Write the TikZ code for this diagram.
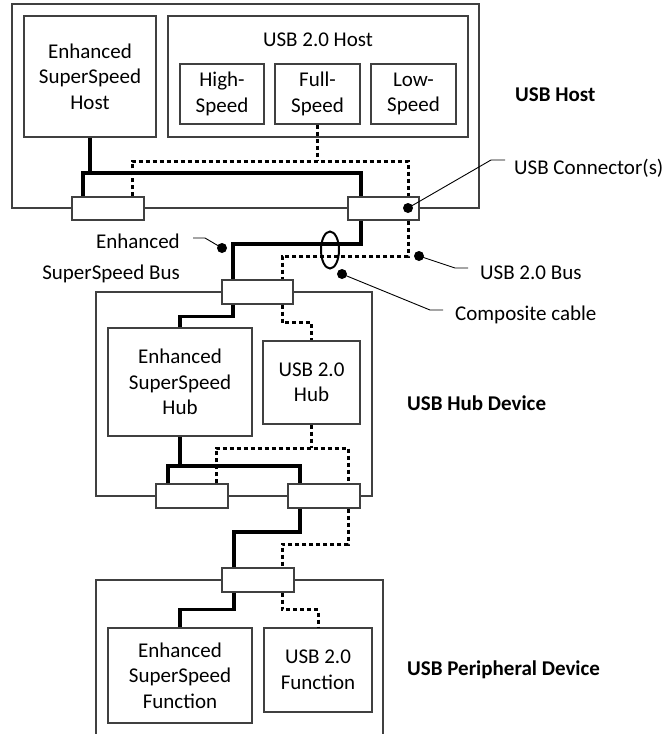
\documentclass[tikz,border=0pt]{standalone}
\usepackage{fontspec}
\setmainfont{Carlito}
\usetikzlibrary{shapes.geometric}
\newcommand\dfont{\fontsize{21}{25.5}\selectfont}
\tikzset{
  box/.style={draw=black!75, line width=1.2pt, inner sep=0pt, align=center, font=\dfont},
  conn/.style={box, fill=white},
  lbl/.style={inner sep=0pt, font=\dfont, anchor=west},
  blbl/.style={inner sep=0pt, font=\dfont\bfseries, anchor=west},
  ss/.style={line width=3.3pt},
  utwo/.style={line width=3pt, dash pattern=on 4pt off 3pt},
  dot/.style={circle, fill=black, inner sep=0pt, minimum size=10pt},
  lead/.style={line width=0.9pt},
  boxline/.style={draw=black!75, line width=1.2pt}
}
\begin{document}
\begin{tikzpicture}[x=1pt,y=-1pt]
\useasboundingbox (0,0) rectangle (667,734);
% host
\node[box, minimum width=467, minimum height=204] (hostbox) at (245.5,106) {};
\node[box, minimum width=132, minimum height=121] (esshost) at (90,76.5) {Enhanced\\SuperSpeed\\Host};
\node[box, minimum width=300, minimum height=121] (u2host) at (318,76.5) {};
\node[lbl, anchor=center] (u2hostlbl) at (318,40) {USB 2.0 Host};
\node[box, minimum width=84, minimum height=60] (hs) at (222,94) {High-\\Speed};
\node[box, minimum width=85, minimum height=60] (fs) at (317.5,94) {Full-\\Speed};
\node[box, minimum width=85, minimum height=60] (ls) at (413.5,94) {Low-\\Speed};
\node[conn, minimum width=72, minimum height=23] (hc1) at (108,208.5) {};
\node[conn, minimum width=71, minimum height=23] (hc2) at (383.5,208.5) {};
% hub
\node[box, minimum width=276, minimum height=204] (hubbox) at (234,394) {};
\node[conn, minimum width=71, minimum height=24] (ubc) at (257.5,292) {};
\node[box, minimum width=144, minimum height=108] (esshub) at (180,382) {Enhanced\\SuperSpeed\\Hub};
\node[box, minimum width=97, minimum height=83] (u2hub) at (311.5,382.5) {USB 2.0\\Hub};
\node[conn, minimum width=72, minimum height=24] (hbc1) at (192,496) {};
\node[conn, minimum width=72, minimum height=24] (hbc2) at (324,496) {};
% peripheral
\draw[boxline] (96,734) -- (96,580) -- (383,580) -- (383,734);
\node[conn, minimum width=72, minimum height=24] (pc) at (258,580) {};
\node[box, minimum width=144, minimum height=95] (essfn) at (180,675.5) {Enhanced\\SuperSpeed\\Function};
\node[box, minimum width=108, minimum height=84] (u2fn) at (318,670) {USB 2.0\\Function};
% junction levels
\coordinate (hostss) at (0,173);
\coordinate (hostu2) at (0,161);
\coordinate (cab1ss) at (0,244);
\coordinate (cab1u2) at (0,256);
\coordinate (hubss) at (0,466);
\coordinate (hubu2) at (0,448);
\coordinate (cab2ss) at (0,532);
\coordinate (cab2u2) at (0,544);
% host wiring
\draw[ss] ([xshift=-25pt]hc1.north) |- ([xshift=-22.5pt]hc2.north |- hostss) -- ([xshift=-22.5pt]hc2.north);
\draw[ss] (esshost.south) -- (esshost.south |- hostss);
\draw[utwo] ([xshift=24pt]hc1.north) |- ([xshift=24.5pt]hc2.north |- hostu2) -- ([xshift=24.5pt]hc2.north);
\draw[utwo] (fs.south) -- (fs.south |- hostu2);
% cable 1
\draw[ss] ([xshift=-22.5pt]hc2.south) |- ([xshift=-24.5pt]ubc.north |- cab1ss) -- ([xshift=-24.5pt]ubc.north);
\draw[utwo] ([xshift=24.5pt]hc2.south) |- ([xshift=24.5pt]ubc.north |- cab1u2) -- ([xshift=24.5pt]ubc.north);
% hub wiring
\draw[ss] ([xshift=-24.5pt]ubc.south) -- ++(0,12) -| (esshub.north);
\draw[utwo] ([xshift=24.5pt]ubc.south) -- ++(0,18) -| (u2hub.north);
\draw[ss] (esshub.south) -- (esshub.south |- hubss);
\draw[ss] ([xshift=-24pt]hbc1.north) |- ([xshift=-24pt]hbc2.north |- hubss) -- ([xshift=-24pt]hbc2.north);
\draw[utwo] (u2hub.south) -- (u2hub.south |- hubu2);
\draw[utwo] ([xshift=24pt]hbc1.north) |- ([xshift=24pt]hbc2.north |- hubu2) -- ([xshift=24pt]hbc2.north);
% cable 2
\draw[ss] ([xshift=-24pt]hbc2.south) |- ([xshift=-24pt]pc.north |- cab2ss) -- ([xshift=-24pt]pc.north);
\draw[utwo] ([xshift=24pt]hbc2.south) |- ([xshift=24pt]pc.north |- cab2u2) -- ([xshift=24pt]pc.north);
% peripheral wiring
\draw[ss] ([xshift=-24pt]pc.south) -- ++(0,17) -| (essfn.north);
\draw[utwo] ([xshift=24pt]pc.south) -- ++(0,17) -| (u2fn.north);
% cable ellipse
\node[draw, ellipse, line width=2pt, inner sep=0pt, minimum width=18, minimum height=37] (cable) at (330,250) {};
% side labels
\node[blbl] (lhost) at (515,95) {USB Host};
\node[blbl] (lhub) at (407,403) {USB Hub Device};
\node[blbl] (lperi) at (407,670) {USB Peripheral Device};
% callouts
\node[dot] (d1) at (408,208) {};
\node[lbl] (lconn) at (514,168) {USB Connector(s)};
\coordinate (k1) at (491,160);
\coordinate (e1) at (505,160);
\draw[lead] (d1.center) -- (k1) -- (e1);
\node[dot] (d2) at (419,256) {};
\node[lbl] (lbus) at (480,273) {USB 2.0 Bus};
\coordinate (k2) at (455,268);
\coordinate (e2) at (468,268);
\draw[lead] (d2.center) -- (k2) -- (e2);
\node[dot] (d3) at (342,274) {};
\node[lbl] (lcab) at (455,315) {Composite cable};
\coordinate (k3) at (430,310);
\coordinate (e3) at (443,310);
\draw[lead] (d3.center) -- (k3) -- (e3);
\node[dot] (d4) at (222,248) {};
\node[inner sep=0pt, align=right, anchor=east, font=\fontsize{21}{31}\selectfont] (lss) at (180,258.5) {Enhanced\\SuperSpeed Bus};
\coordinate (k4) at (205,238);
\coordinate (e4) at (193,238);
\draw[lead] (d4.center) -- (k4) -- (e4);
\end{tikzpicture}
\end{document}
